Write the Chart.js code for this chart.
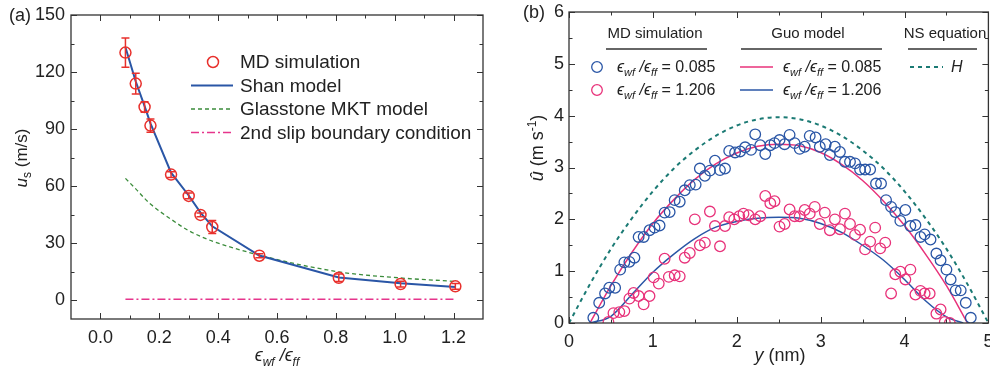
<!DOCTYPE html>
<html>
<head>
<meta charset="utf-8">
<script src="https://cdn.jsdelivr.net/npm/chart.js@4.4.1/dist/chart.umd.min.js"></script>
<style>
  html, body { margin: 0; padding: 0; background: #fff; overflow: hidden; width: 990px; height: 371px; }
  #panelA { position: absolute; left: 0; top: 0; }
  #panelB { position: absolute; left: 495px; top: 0; }
</style>
</head>
<body>
<canvas id="panelA" width="495" height="371"></canvas>
<canvas id="panelB" width="500" height="371"></canvas>
<script>
// ---- (a) slip velocity against the wall/fluid interaction ratio ----
const ratio        = [0.085, 0.12, 0.15, 0.17, 0.24, 0.30, 0.34, 0.38, 0.54, 0.81, 1.02, 1.206];
const mdSlip       = [130.2, 113.9, 101.6, 91.8, 66.0, 54.8, 44.8, 38.4, 23.3, 11.7, 8.4, 7.2];
const mdSlipErr    = [7.7, 5.5, 2.8, 3.5, 1.5, 1.5, 1.0, 3.4, 1.0, 2.0, 1.5, 1.5];
const shanSlip     = [133, 115, 102, 93, 67, 55, 46, 38.8, 23.4, 11.8, 8.8, 6.8];
const glasstoneSlip = [64, 58.5, 53.5, 50.5, 42.5, 36.5, 33.5, 31, 23.6, 14.8, 11.6, 9.8];
const secondSlip   = [0.4, 0.4, 0.4, 0.4, 0.4, 0.4, 0.4, 0.4, 0.4, 0.4, 0.4, 0.4];
const ratioTicks   = [0, 0.2, 0.4, 0.6, 0.8, 1.0, 1.2];
const ratioMinor   = [0.1, 0.3, 0.5, 0.7, 0.9, 1.1];
const slipTicks    = [0, 30, 60, 90, 120, 150];
const slipMinor    = [15, 45, 75, 105, 135];

// ---- (b) velocity profiles across the channel ----
const yLow  = [0.29,0.36,0.43,0.48,0.55,0.61,0.66,0.72,0.78,0.83,0.89,0.96,1.02,1.08,1.14,1.20,1.26,1.32,1.38,1.44,
               1.51,1.56,1.62,1.68,1.74,1.80,1.86,1.91,1.98,2.04,2.10,2.17,2.22,2.28,2.34,2.40,2.45,2.51,2.57,2.63,
               2.69,2.75,2.81,2.87,2.94,2.99,3.06,3.11,3.17,3.23,3.29,3.35,3.41,3.47,3.53,3.59,3.66,3.72,3.78,3.84,
               3.89,3.95,4.01,4.07,4.13,4.19,4.24,4.31,4.38,4.43,4.50,4.55,4.61,4.67,4.73,4.79];
const uLow  = [0.10,0.39,0.57,0.68,0.68,1.03,1.17,1.18,1.26,1.66,1.66,1.79,1.84,1.88,2.13,2.14,2.37,2.34,2.56,2.66,
               2.67,2.98,2.84,2.94,3.13,2.95,2.98,3.32,3.29,3.31,3.39,3.34,3.64,3.43,3.26,3.43,3.47,3.53,3.45,3.63,
               3.47,3.36,3.40,3.61,3.58,3.40,3.45,3.24,3.40,3.30,3.11,3.11,3.08,2.96,2.96,2.96,2.69,2.69,2.37,2.24,
               2.14,1.97,2.18,1.87,1.89,1.66,1.71,1.61,1.34,1.21,1.03,0.84,0.63,0.63,0.39,0.10];
const yHigh = [0.47,0.53,0.60,0.66,0.72,0.77,0.83,0.89,0.96,1.01,1.07,1.14,1.19,1.26,1.32,1.38,1.44,1.50,1.56,1.62,
               1.68,1.74,1.80,1.86,1.91,1.97,2.03,2.08,2.14,2.22,2.28,2.34,2.40,2.45,2.51,2.57,2.63,2.69,2.75,2.81,
               2.87,2.93,2.99,3.05,3.11,3.17,3.23,3.29,3.35,3.41,3.47,3.53,3.59,3.65,3.71,3.77,3.84,3.89,3.95,4.01,
               4.07,4.13,4.19,4.24,4.30,4.38,4.43,4.48,4.54];
const uHigh = [0.02,0.19,0.21,0.23,0.47,0.58,0.52,0.36,0.52,0.88,0.76,1.24,0.89,0.92,0.90,1.26,1.35,2.00,1.50,1.55,
               2.15,1.87,1.48,1.87,2.04,2.00,2.06,2.11,2.08,2.00,2.06,2.45,2.31,2.35,1.86,1.91,2.19,2.06,2.06,2.18,
               2.11,2.24,1.91,2.13,1.79,2.00,1.81,2.11,1.91,1.70,1.80,1.42,1.57,1.84,1.44,1.55,0.57,0.94,0.99,0.84,
               1.03,0.55,0.62,0.57,0.57,0.18,0.26,0.02,0.00];
const guoLowY  = [0.25,0.5,0.75,1.0,1.25,1.5,1.75,2.0,2.25,2.5,2.75,3.0,3.25,3.5,3.75,4.0,4.25,4.5,4.75];
const guoLowU  = [0,0.72,1.36,1.92,2.38,2.77,3.07,3.28,3.41,3.45,3.42,3.29,3.06,2.75,2.35,1.88,1.33,0.72,0];
const guoHighY = [0.25,0.5,0.75,1.0,1.25,1.5,1.75,2.0,2.25,2.5,2.75,3.0,3.25,3.5,3.75,4.0,4.25,4.5,4.7];
const guoHighU = [0,0.13,0.55,0.98,1.33,1.63,1.85,1.96,2.02,2.04,2.02,1.92,1.75,1.50,1.21,0.84,0.43,0.12,0];
const nsY = [0,0.25,0.5,0.75,1.0,1.25,1.5,1.75,2.0,2.25,2.5,2.75,3.0,3.25,3.5,3.75,4.0,4.25,4.5,4.75,5.0];
const nsU = [0,0.75,1.43,2.02,2.54,2.98,3.33,3.61,3.81,3.93,3.97,3.93,3.81,3.61,3.33,2.98,2.54,2.02,1.43,0.75,0];
const posTicks = [0, 1, 2, 3, 4, 5];
const posMinor = [0.5, 1.5, 2.5, 3.5, 4.5];
const velTicks = [0, 1, 2, 3, 4, 5, 6];
const velMinor = [0.5, 1.5, 2.5, 3.5, 4.5, 5.5];

const FF = '"Liberation Sans", Arial, "DejaVu Sans", sans-serif';
const INK = '#222';
const RED = '#e8302c', BLUE = '#2a56a6', GREEN = '#3b8c3b', MAGENTA = '#e6358c';
const PINK = '#e8327a', TEAL = '#1b7a74';

Chart.defaults.font.family = FF;
Chart.defaults.font.size = 18;
Chart.defaults.color = INK;

const pts = (xs, ys) => xs.map((x, i) => ({ x: x, y: ys[i] }));
const f = (style, size) => `${style} ${size}px ${FF}`;

// draws a run of text pieces [text, font, dy] one after another
function drawRich(ctx, parts, x, y, align) {
  let w = 0;
  parts.forEach(p => { ctx.font = p[1]; w += ctx.measureText(p[0]).width; });
  let cx = align === 'center' ? x - w / 2 : x;
  parts.forEach(p => {
    ctx.font = p[1];
    ctx.fillText(p[0], cx, y + (p[2] || 0));
    cx += ctx.measureText(p[0]).width;
  });
}

function ratioText(size, sub, tail) {
  const parts = [['ϵ', f('italic', size)], ['wf', f('italic', sub), sub * 0.4],
                 [' /', f('italic', size)], ['ϵ', f('italic', size)], ['ff', f('italic', sub), sub * 0.4]];
  if (tail) parts.push([tail, f('normal', size)]);
  return parts;
}

// box round the plot plus inward ticks on all four sides
function framePlugin(xMajor, xMinor, yMajor, yMinor) {
  return {
    id: 'frame',
    afterDatasetsDraw(chart) {
      const { ctx, chartArea: a, scales: { x, y } } = chart;
      ctx.save();
      ctx.strokeStyle = '#333';
      ctx.lineWidth = 1;
      const seg = (x1, y1, x2, y2) => { ctx.beginPath(); ctx.moveTo(x1, y1); ctx.lineTo(x2, y2); ctx.stroke(); };
      const xt = (vals, len) => vals.forEach(v => {
        const p = Math.round(x.getPixelForValue(v)) + 0.5;
        seg(p, a.bottom, p, a.bottom - len); seg(p, a.top, p, a.top + len);
      });
      const yt = (vals, len) => vals.forEach(v => {
        const p = Math.round(y.getPixelForValue(v)) + 0.5;
        seg(a.left, p, a.left + len, p); seg(a.right, p, a.right - len, p);
      });
      xt(xMajor, 6); xt(xMinor, 3.5); yt(yMajor, 6); yt(yMinor, 3.5);
      ctx.lineWidth = 1.3;
      ctx.strokeRect(a.left, a.top, a.right - a.left, a.bottom - a.top);
      ctx.restore();
    }
  };
}

function sampleLine(ctx, ds, x1, x2, y) {
  ctx.save();
  ctx.strokeStyle = ds.borderColor;
  ctx.lineWidth = ds.borderWidth;
  ctx.setLineDash(ds.borderDash || []);
  ctx.beginPath(); ctx.moveTo(x1, y); ctx.lineTo(x2, y); ctx.stroke();
  ctx.restore();
}
function sampleCircle(ctx, ds, x, y) {
  ctx.save();
  ctx.strokeStyle = ds.pointBorderColor;
  ctx.lineWidth = ds.pointBorderWidth;
  ctx.beginPath(); ctx.arc(x, y, ds.pointRadius, 0, Math.PI * 2); ctx.stroke();
  ctx.restore();
}

// fixed axis sizes so the plot box lands where it should; label overhang is ignored
function axisScales(xr, yr, xTicks, yTicks, xFmt, yFmt, xH, yW, xPad, yPad) {
  return {
    x: {
      type: 'linear', min: xr[0], max: xr[1],
      grid: { display: false, drawTicks: false }, border: { display: false },
      afterBuildTicks: s => { s.ticks = xTicks.map(v => ({ value: v })); },
      afterFit: s => { s.height = xH; s.paddingLeft = 0; s.paddingRight = 0; },
      ticks: { padding: xPad, maxRotation: 0, autoSkip: false, callback: xFmt }
    },
    y: {
      type: 'linear', min: yr[0], max: yr[1],
      grid: { display: false, drawTicks: false }, border: { display: false },
      afterBuildTicks: s => { s.ticks = yTicks.map(v => ({ value: v })); },
      afterFit: s => { s.width = yW; s.paddingTop = 0; s.paddingBottom = 0; },
      ticks: { padding: yPad, autoSkip: false, callback: yFmt }
    }
  };
}

// ---------- panel (a) ----------
const slipDatasets = [
  { label: 'MD simulation', data: pts(ratio, mdSlip), showLine: false,
    pointRadius: 5.5, pointBorderWidth: 1.5, pointBorderColor: RED, pointBackgroundColor: 'rgba(0,0,0,0)' },
  { label: 'Shan model', data: pts(ratio, shanSlip), borderColor: BLUE, borderWidth: 2, pointRadius: 0 },
  { label: 'Glasstone MKT model', data: pts(ratio, glasstoneSlip), borderColor: GREEN, borderWidth: 1.3,
    borderDash: [4, 3], pointRadius: 0, cubicInterpolationMode: 'monotone' },
  { label: '2nd slip boundary condition', data: pts(ratio, secondSlip), borderColor: MAGENTA, borderWidth: 1.3,
    borderDash: [8, 3, 2, 3], pointRadius: 0 }
];

const errorBars = {
  id: 'errorBars',
  afterDatasetsDraw(chart) {
    const { ctx, scales: { x, y } } = chart;
    ctx.save();
    ctx.strokeStyle = RED; ctx.lineWidth = 1.5;
    ratio.forEach((r, i) => {
      const px = x.getPixelForValue(r);
      const top = y.getPixelForValue(mdSlip[i] + mdSlipErr[i]);
      const bot = y.getPixelForValue(mdSlip[i] - mdSlipErr[i]);
      ctx.beginPath();
      ctx.moveTo(px, top); ctx.lineTo(px, bot);
      ctx.moveTo(px - 4, top); ctx.lineTo(px + 4, top);
      ctx.moveTo(px - 4, bot); ctx.lineTo(px + 4, bot);
      ctx.stroke();
    });
    ctx.restore();
  }
};

const slipDecor = {
  id: 'slipDecor',
  afterDraw(chart) {
    const ctx = chart.ctx;
    const ds = chart.data.datasets;
    ctx.save();
    ctx.fillStyle = INK;
    ctx.textBaseline = 'alphabetic';
    drawRich(ctx, [['(a)', f('normal', 18)]], 9, 21, 'left');
    drawRich(ctx, ratioText(18, 12), 277, 361, 'center');
    ctx.save();
    ctx.translate(27, 158); ctx.rotate(-Math.PI / 2);
    drawRich(ctx, [['u', f('italic', 17)], ['s', f('normal', 12), 4], [' (m/s)', f('normal', 17)]], 0, 0, 'center');
    ctx.restore();
    // legend
    const rows = [62, 85.5, 109, 132.5];
    sampleCircle(ctx, ds[0], 213, rows[0]);
    sampleLine(ctx, ds[1], 191, 233, rows[1]);
    sampleLine(ctx, ds[2], 191, 233, rows[2]);
    sampleLine(ctx, ds[3], 191, 233, rows[3]);
    ctx.fillStyle = INK;
    ctx.textBaseline = 'middle';
    ctx.font = f('normal', 19);
    ds.forEach((d, i) => ctx.fillText(d.label, 240, rows[i] + 1));
    ctx.restore();
  }
};

new Chart(document.getElementById('panelA'), {
  type: 'line',
  data: { datasets: slipDatasets },
  options: {
    responsive: false, animation: false, events: [],
    layout: { padding: { left: 0, top: 15, right: 12, bottom: 0 } },
    plugins: { legend: { display: false }, tooltip: { enabled: false } },
    scales: axisScales([-0.1, 1.3], [-10, 150], ratioTicks, slipTicks,
      v => v.toFixed(1), v => String(v), 52, 71, 8, 6)
  },
  plugins: [framePlugin(ratioTicks, ratioMinor, slipTicks, slipMinor), errorBars, slipDecor]
});

// ---------- panel (b) ----------
const profileDatasets = [
  { label: 'MD 0.085', data: pts(yLow, uLow), showLine: false,
    pointRadius: 5.3, pointBorderWidth: 1.3, pointBorderColor: BLUE, pointBackgroundColor: 'rgba(0,0,0,0)' },
  { label: 'MD 1.206', data: pts(yHigh, uHigh), showLine: false,
    pointRadius: 5.3, pointBorderWidth: 1.3, pointBorderColor: PINK, pointBackgroundColor: 'rgba(0,0,0,0)' },
  { label: 'Guo 0.085', data: pts(guoLowY, guoLowU), borderColor: PINK, borderWidth: 1.5,
    pointRadius: 0, cubicInterpolationMode: 'monotone' },
  { label: 'Guo 1.206', data: pts(guoHighY, guoHighU), borderColor: BLUE, borderWidth: 1.5,
    pointRadius: 0, cubicInterpolationMode: 'monotone' },
  { label: 'H', data: pts(nsY, nsU), borderColor: TEAL, borderWidth: 2, borderDash: [4, 4],
    pointRadius: 0, cubicInterpolationMode: 'monotone' }
];

const profileDecor = {
  id: 'profileDecor',
  afterDraw(chart) {
    const ctx = chart.ctx;
    const ds = chart.data.datasets;
    ctx.save();
    ctx.fillStyle = INK;
    ctx.textBaseline = 'alphabetic';
    drawRich(ctx, [['(b)', f('normal', 18)]], 28, 18, 'left');
    drawRich(ctx, [['y', f('italic', 18)], [' (nm)', f('normal', 18)]], 285, 361, 'center');
    ctx.save();
    ctx.translate(48, 148); ctx.rotate(-Math.PI / 2);
    drawRich(ctx, [['û', f('italic', 18)], [' (m s', f('normal', 18)], ['-1', f('normal', 12), -7],
                   [')', f('normal', 18)]], 0, 0, 'center');
    ctx.restore();

    // legend: three column headers with rules beneath
    ctx.textBaseline = 'middle';
    ctx.textAlign = 'center';
    ctx.font = f('normal', 15);
    ctx.fillText('MD simulation', 160, 34);
    ctx.fillText('Guo model', 313, 34);
    ctx.fillText('NS equation', 450, 34);
    ctx.textAlign = 'left';
    ctx.strokeStyle = '#333'; ctx.lineWidth = 1.5;
    [[111, 212], [246, 387], [413, 482]].forEach(r => {
      ctx.beginPath(); ctx.moveTo(r[0], 49); ctx.lineTo(r[1], 49); ctx.stroke();
    });
    const r1 = 67, r2 = 90;
    sampleCircle(ctx, ds[0], 102, r1);
    sampleCircle(ctx, ds[1], 102, r2);
    sampleLine(ctx, ds[2], 245, 278, r1);
    sampleLine(ctx, ds[3], 245, 278, r2);
    sampleLine(ctx, ds[4], 415, 448, r1);
    ctx.fillStyle = INK;
    ctx.textBaseline = 'alphabetic';
    drawRich(ctx, ratioText(16, 11, ' = 0.085'), 122, r1 + 5, 'left');
    drawRich(ctx, ratioText(16, 11, ' = 1.206'), 122, r2 + 5, 'left');
    drawRich(ctx, ratioText(16, 11, ' = 0.085'), 288, r1 + 5, 'left');
    drawRich(ctx, ratioText(16, 11, ' = 1.206'), 288, r2 + 5, 'left');
    drawRich(ctx, [['H', f('italic', 16)]], 456, r1 + 5, 'left');
    ctx.restore();
  }
};

new Chart(document.getElementById('panelB'), {
  type: 'line',
  data: { datasets: profileDatasets },
  options: {
    responsive: false, animation: false, events: [],
    layout: { padding: { left: 0, top: 12, right: 6.5, bottom: 0 } },
    plugins: { legend: { display: false }, tooltip: { enabled: false } },
    scales: axisScales([0, 5], [0, 6], posTicks, velTicks,
      v => String(v), v => String(v), 48, 74, 8, 5)
  },
  plugins: [framePlugin(posTicks, posMinor, velTicks, velMinor), profileDecor]
});
</script>
</body>
</html>
